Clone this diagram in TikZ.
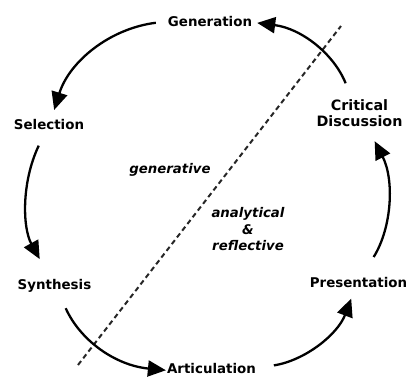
\documentclass[tikz,border=0pt]{standalone}
\usepackage{fontspec}
\setmainfont{DejaVu Sans}
\usetikzlibrary{arrows.meta}
\begin{document}
\begin{tikzpicture}[x=1pt,y=-1pt,
  stage/.style={font=\fontsize{13.4}{16}\selectfont\bfseries, inner sep=0pt, align=center, text=black},
  mode/.style={font=\fontsize{13.3}{16.5}\selectfont\bfseries\itshape, inner sep=0pt, align=center, text=black},
  flow/.style={line width=2.3pt, draw=black, -{Triangle[length=18pt,width=16pt]}},
  divide/.style={line width=2pt, draw=black!85, dash pattern=on 5pt off 3.5pt}]
  \useasboundingbox (0,0) rectangle (408,376);

  % stages of the cycle, placed round a circle
  \node[stage] (gen)  at (210,21.5) {Generation};
  \node[stage] (sel)  at (49,124)   {Selection};
  \node[stage] (syn)  at (54.5,286) {Synthesis};
  \node[stage] (art)  at (211.5,368.5) {Articulation};
  \node[stage] (pre)  at (358.5,282) {Presentation};
  \node[stage, font=\fontsize{14.3}{16.5}\selectfont\bfseries] (crit) at (359.5,113) {Critical\\Discussion};

  % the two modes either side of the dividing line
  \node[mode] (gnr) at (170,170) {generative};
  \node[mode] (ana) at (248,229.5) {analytical\\\&\\reflective};

  % dividing line
  \coordinate (d1) at (78,365);
  \coordinate (d2) at (341,26);
  \draw[divide] (d1) -- (d2);

  % arrows of the cycle, counter-clockwise
  \draw[flow, shorten <=12pt, shorten >=9pt]  (gen)  to[bend right=32.8] (sel);
  \draw[flow, shorten <=18pt, shorten >=23pt] (sel)  to[bend right=27.1] (syn);
  \draw[flow, shorten <=17pt, shorten >=1pt]  (syn)  to[bend right=30.1] (art);
  \draw[flow, shorten <=18pt, shorten >=12pt] (art)  to[bend right=30.1] (pre);
  \draw[flow, shorten <=23pt, shorten >=16pt] (pre)  to[bend right=29.5] (crit);
  \draw[flow, shorten <=17pt, shorten >=5pt]  (crit) to[bend right=30.4] (gen);
\end{tikzpicture}
\end{document}
